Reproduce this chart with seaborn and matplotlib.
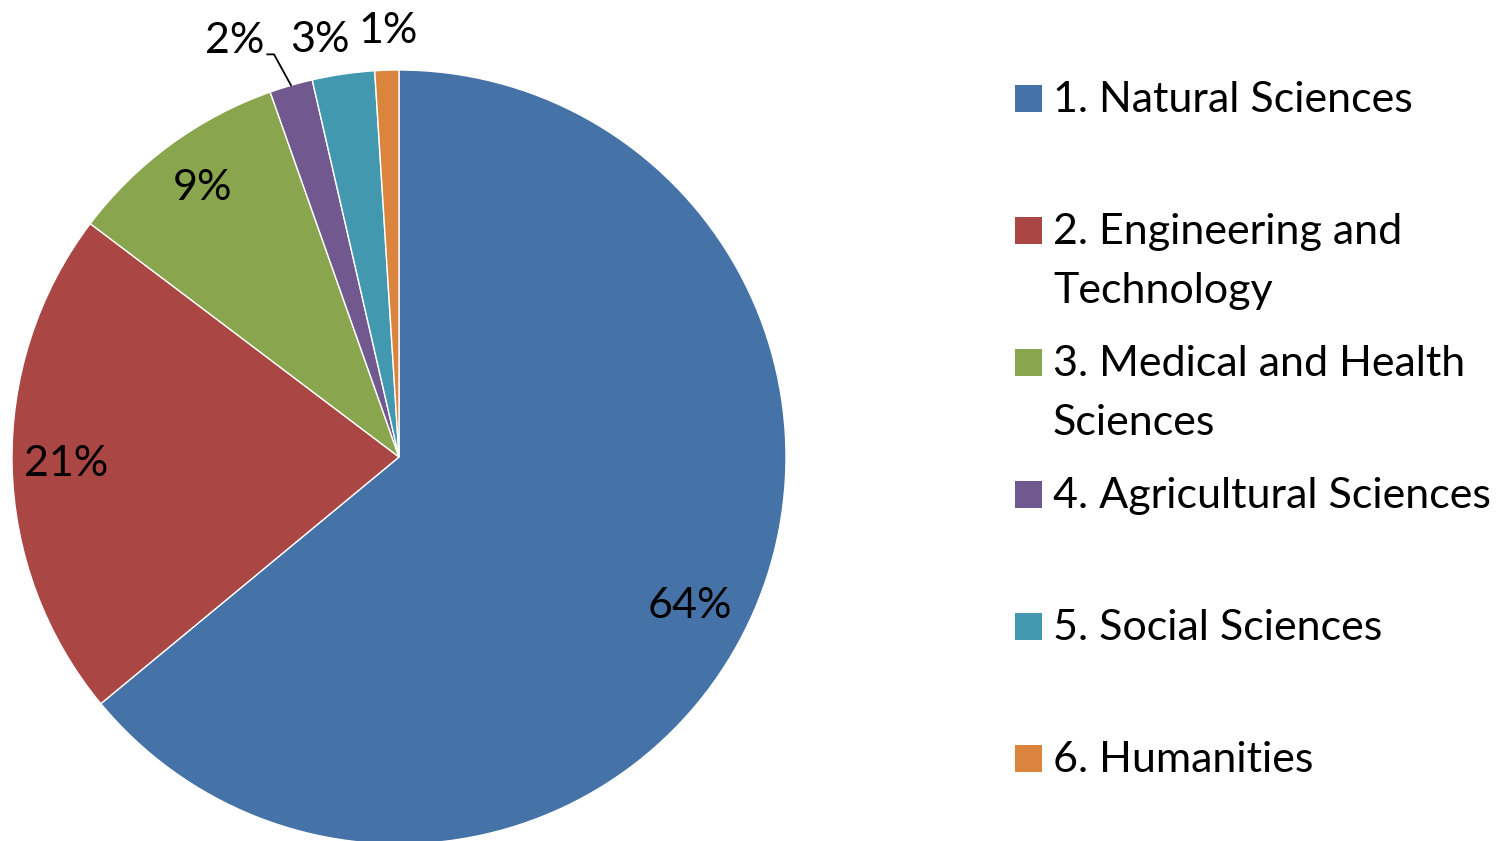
import matplotlib
matplotlib.use("Agg")
import matplotlib.pyplot as plt
from matplotlib.patches import Rectangle
import numpy as np
import seaborn as sns

categories = ["1. Natural Sciences", "2. Engineering and\nTechnology",
              "3. Medical and Health\nSciences", "4. Agricultural Sciences",
              "5. Social Sciences", "6. Humanities"]
shares = [64.0, 21.3, 9.3, 1.8, 2.6, 1.0]
pct_labels = ["64%", "21%", "9%", "2%", "3%", "1%"]
colors = ["#4572A7", "#AA4643", "#89A54E", "#71588F", "#4198AF", "#DB843D"]

sns.set_theme(style="white")
plt.rcParams['font.family'] = ['Lato', 'DejaVu Sans']

W, H = 1508, 841
fig = plt.figure(figsize=(W / 100, H / 100), dpi=100)
ax = fig.add_axes([0, 0, 1, 1])

cx, cy, R = 399, H - 457, 387
wedges, _ = ax.pie(shares, colors=colors, startangle=90, counterclock=False,
                   center=(cx, cy), radius=R, frame=True,
                   wedgeprops=dict(edgecolor="white", linewidth=1))
ax.set_xlim(0, W)
ax.set_ylim(0, H)
ax.set_aspect("equal")
ax.axis("off")

fs = 31
# inside labels (angle offset in degrees, radius factor)
inside = {0: (-2.0, 0.845), 1: (0.0, 0.86), 2: (0.0, 0.86)}
for i, (dang, rf) in inside.items():
    w = wedges[i]
    mid = np.deg2rad((w.theta1 + w.theta2) / 2 + dang)
    x = cx + rf * R * np.cos(mid)
    y = cy + rf * R * np.sin(mid)
    ax.text(x, y, pct_labels[i], ha="center", va="center", fontsize=fs, color="black")

# outside labels (angle offset from slice middle, radius factor)
outside = {3: (5.4, 1.155), 4: (2.4, 1.096), 5: (-0.3, 1.10)}
for i, (dang, rf) in outside.items():
    w = wedges[i]
    midd = (w.theta1 + w.theta2) / 2
    a = np.deg2rad(midd + dang)
    x = cx + rf * R * np.cos(a)
    y = cy + rf * R * np.sin(a)
    ax.text(x, y, pct_labels[i], ha="center", va="center", fontsize=fs, color="black")
    if i == 3:
        m = np.deg2rad(midd)
        x0, y0 = cx + R * np.cos(m), cy + R * np.sin(m)
        x1, y1 = x0 - 17, y0 + 31
        ax.plot([x0, x1, x1 - 7], [y0, y1, y1], color="black", lw=1.3)

# legend
base0 = 112
step = 132
line_gap = 59
for i, (lab, c) in enumerate(zip(categories, colors)):
    b = base0 + step * i
    ax.add_patch(Rectangle((1015, H - b), 27, 27, facecolor=c, edgecolor="none"))
    for j, line in enumerate(lab.split("\n")):
        ax.text(1053, H - (b + j * line_gap), line, ha="left", va="baseline",
                fontsize=fs, color="black")

fig.savefig("out.png", dpi=100)
